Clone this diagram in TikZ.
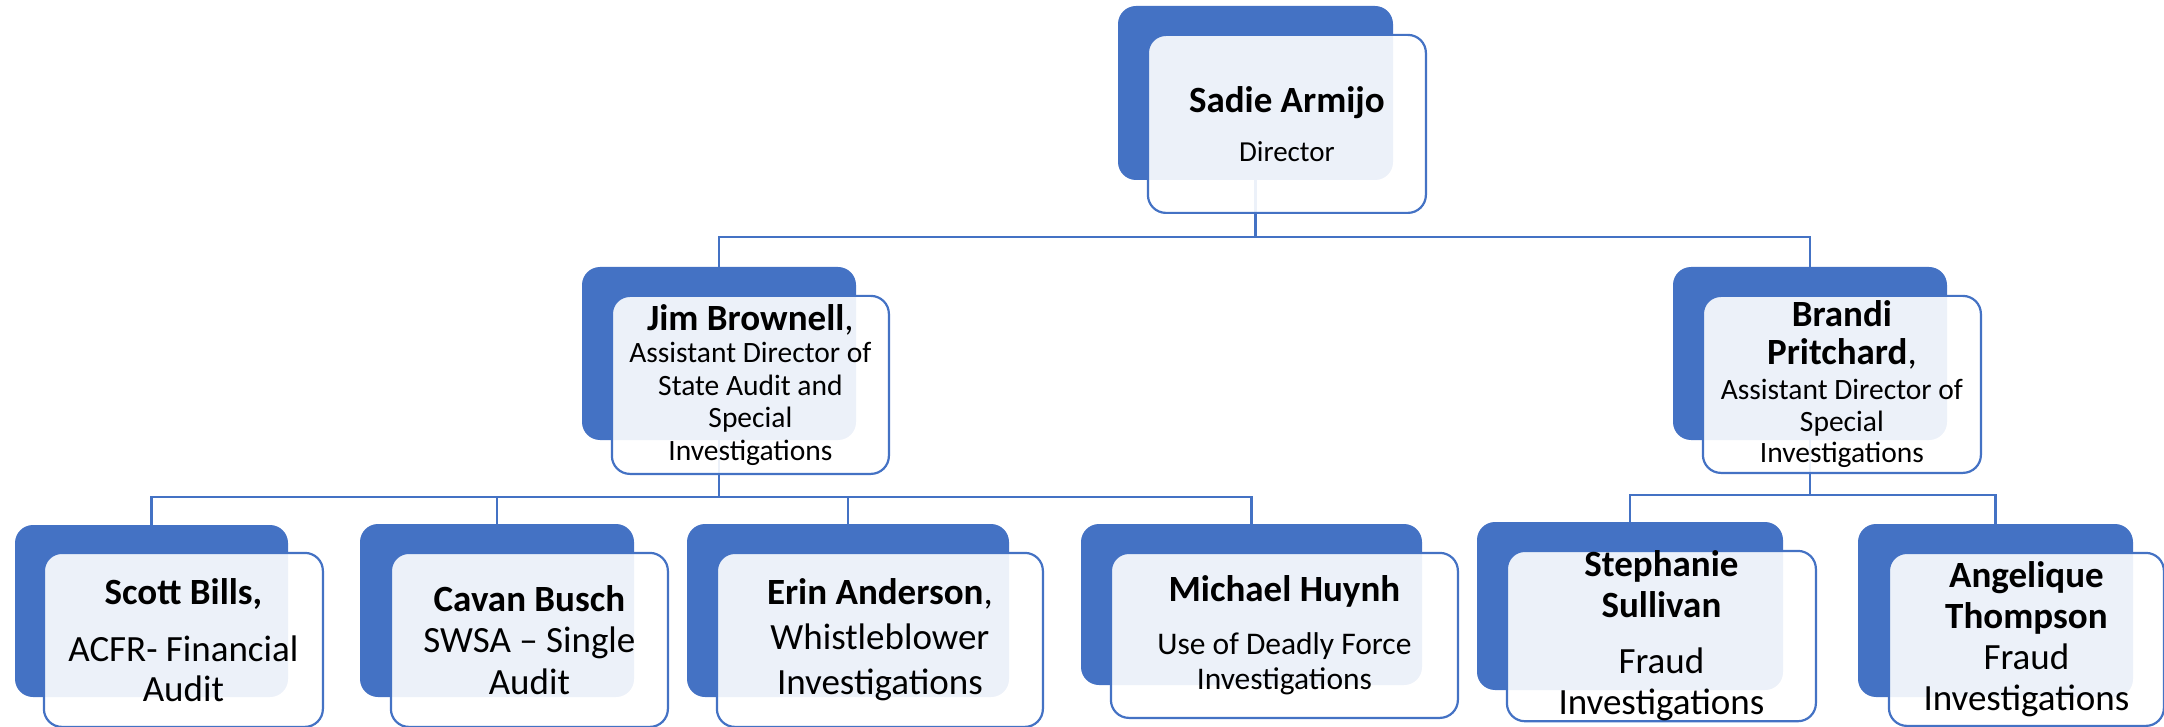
\documentclass[tikz,border=0pt]{standalone}
\usepackage{fontspec}
\setmainfont{Carlito}
\usetikzlibrary{positioning}
\definecolor{orgblue}{HTML}{4472C4}
\tikzset{back/.style={fill=orgblue,rounded corners=18pt,inner sep=0pt},
  card/.style={draw=orgblue,line width=2.2pt,fill=white,fill opacity=.9,text opacity=1,
  rounded corners=18pt,align=center,inner sep=0pt},
  link/.style={draw=orgblue,line width=2.2pt}}
\newcommand\who[1]{{\fontsize{37}{37}\selectfont\bfseries #1}}

\begin{document}
\begin{tikzpicture}[x=1pt,y=-1pt]
\useasboundingbox (0,0) rectangle (2164,727);
% back plates
\node[back,minimum width=275pt,minimum height=174pt] (sadieB) at (1255.5,93) {};
\node[back,minimum width=274pt,minimum height=173pt] (jimB) at (719,353.5) {};
\node[back,minimum width=274pt,minimum height=173pt] (brandiB) at (1810,353.5) {};
\node[back,minimum width=273pt,minimum height=172pt] (scottB) at (151.5,611) {};
\node[back,minimum width=274pt,minimum height=173pt] (cavanB) at (497,610.5) {};
\node[back,minimum width=322pt,minimum height=173pt] (erinB) at (848,610.5) {};
\node[back,minimum width=341pt,minimum height=161pt] (michaelB) at (1251.5,604.5) {};
\node[back,minimum width=306pt,minimum height=168pt] (stephB) at (1630,606) {};
\node[back,minimum width=275pt,minimum height=173pt] (angeB) at (1995.5,610.5) {};
% reporting lines
\draw[link] (sadieB.south) -- ++(0,57) -| (jimB.north);
\draw[link] (sadieB.south) -- ++(0,57) -| (brandiB.north);
\draw[link] (jimB.south) -- ++(0,57) -| (scottB.north);
\draw[link] (jimB.south) -- ++(0,57) -| (cavanB.north);
\draw[link] (jimB.south) -- ++(0,57) -| (erinB.north);
\draw[link] (jimB.south) -- ++(0,57) -| (michaelB.north);
\draw[link] (brandiB.south) -- ++(0,55) -| (stephB.north);
\draw[link] (brandiB.south) -- ++(0,55) -| (angeB.north);
% name cards
\node[card,below right=28pt and 29pt of sadieB.north west,minimum width=278pt,minimum height=178pt,
  font=\fontsize{29}{49}\selectfont] (sadie) {\who{Sadie Armijo}\\Director};
\node[card,below right=28pt and 29pt of jimB.north west,minimum width=277pt,minimum height=178pt,
  font=\fontsize{29.5}{32.5}\selectfont] (jim) {\who{Jim Brownell}{\fontsize{37}{37}\selectfont,}\\Assistant Director of\\State Audit and\\Special\\Investigations};
\node[card,below right=28pt and 29pt of brandiB.north west,minimum width=278pt,minimum height=177pt,
  font=\fontsize{29.5}{31.5}\selectfont] (brandi) {\who{Brandi}\\[6pt]\who{Pritchard}{\fontsize{37}{37}\selectfont,}\\[4pt]Assistant Director of\\Special\\Investigations};
\node[card,below right=27pt and 28pt of scottB.north west,minimum width=279pt,minimum height=174pt,
  font=\fontsize{37}{40}\selectfont] (scott) {\who{Scott Bills,}\\[17pt]ACFR- Financial\\Audit};
\node[card,below right=28pt and 30pt of cavanB.north west,minimum width=277pt,minimum height=174pt,
  font=\fontsize{37}{41.5}\selectfont] (cavan) {\who{Cavan Busch}\\SWSA -- Single\\Audit};
\node[card,below right=28pt and 29pt of erinB.north west,minimum width=326pt,minimum height=174pt,
  font=\fontsize{37}{45}\selectfont] (erin) {\who{Erin Anderson},\\Whistleblower\\Investigations};
\node[card,below right=28pt and 29pt of michaelB.north west,minimum width=347pt,minimum height=165pt,
  font=\fontsize{31.5}{35}\selectfont] (michael) {\who{Michael Huynh}\\[18pt]Use of Deadly Force\\Investigations};
\node[card,below right=28pt and 29pt of stephB.north west,minimum width=309pt,minimum height=170pt,
  font=\fontsize{37}{41}\selectfont] (steph) {\who{Stephanie}\\\who{Sullivan}\\[15pt]Fraud\\Investigations};
\node[card,below right=28pt and 30pt of angeB.north west,minimum width=275pt,minimum height=173pt,
  font=\fontsize{37}{41}\selectfont] (ange) {\who{Angelique}\\\who{Thompson}\\Fraud\\Investigations};
\end{tikzpicture}
\end{document}
